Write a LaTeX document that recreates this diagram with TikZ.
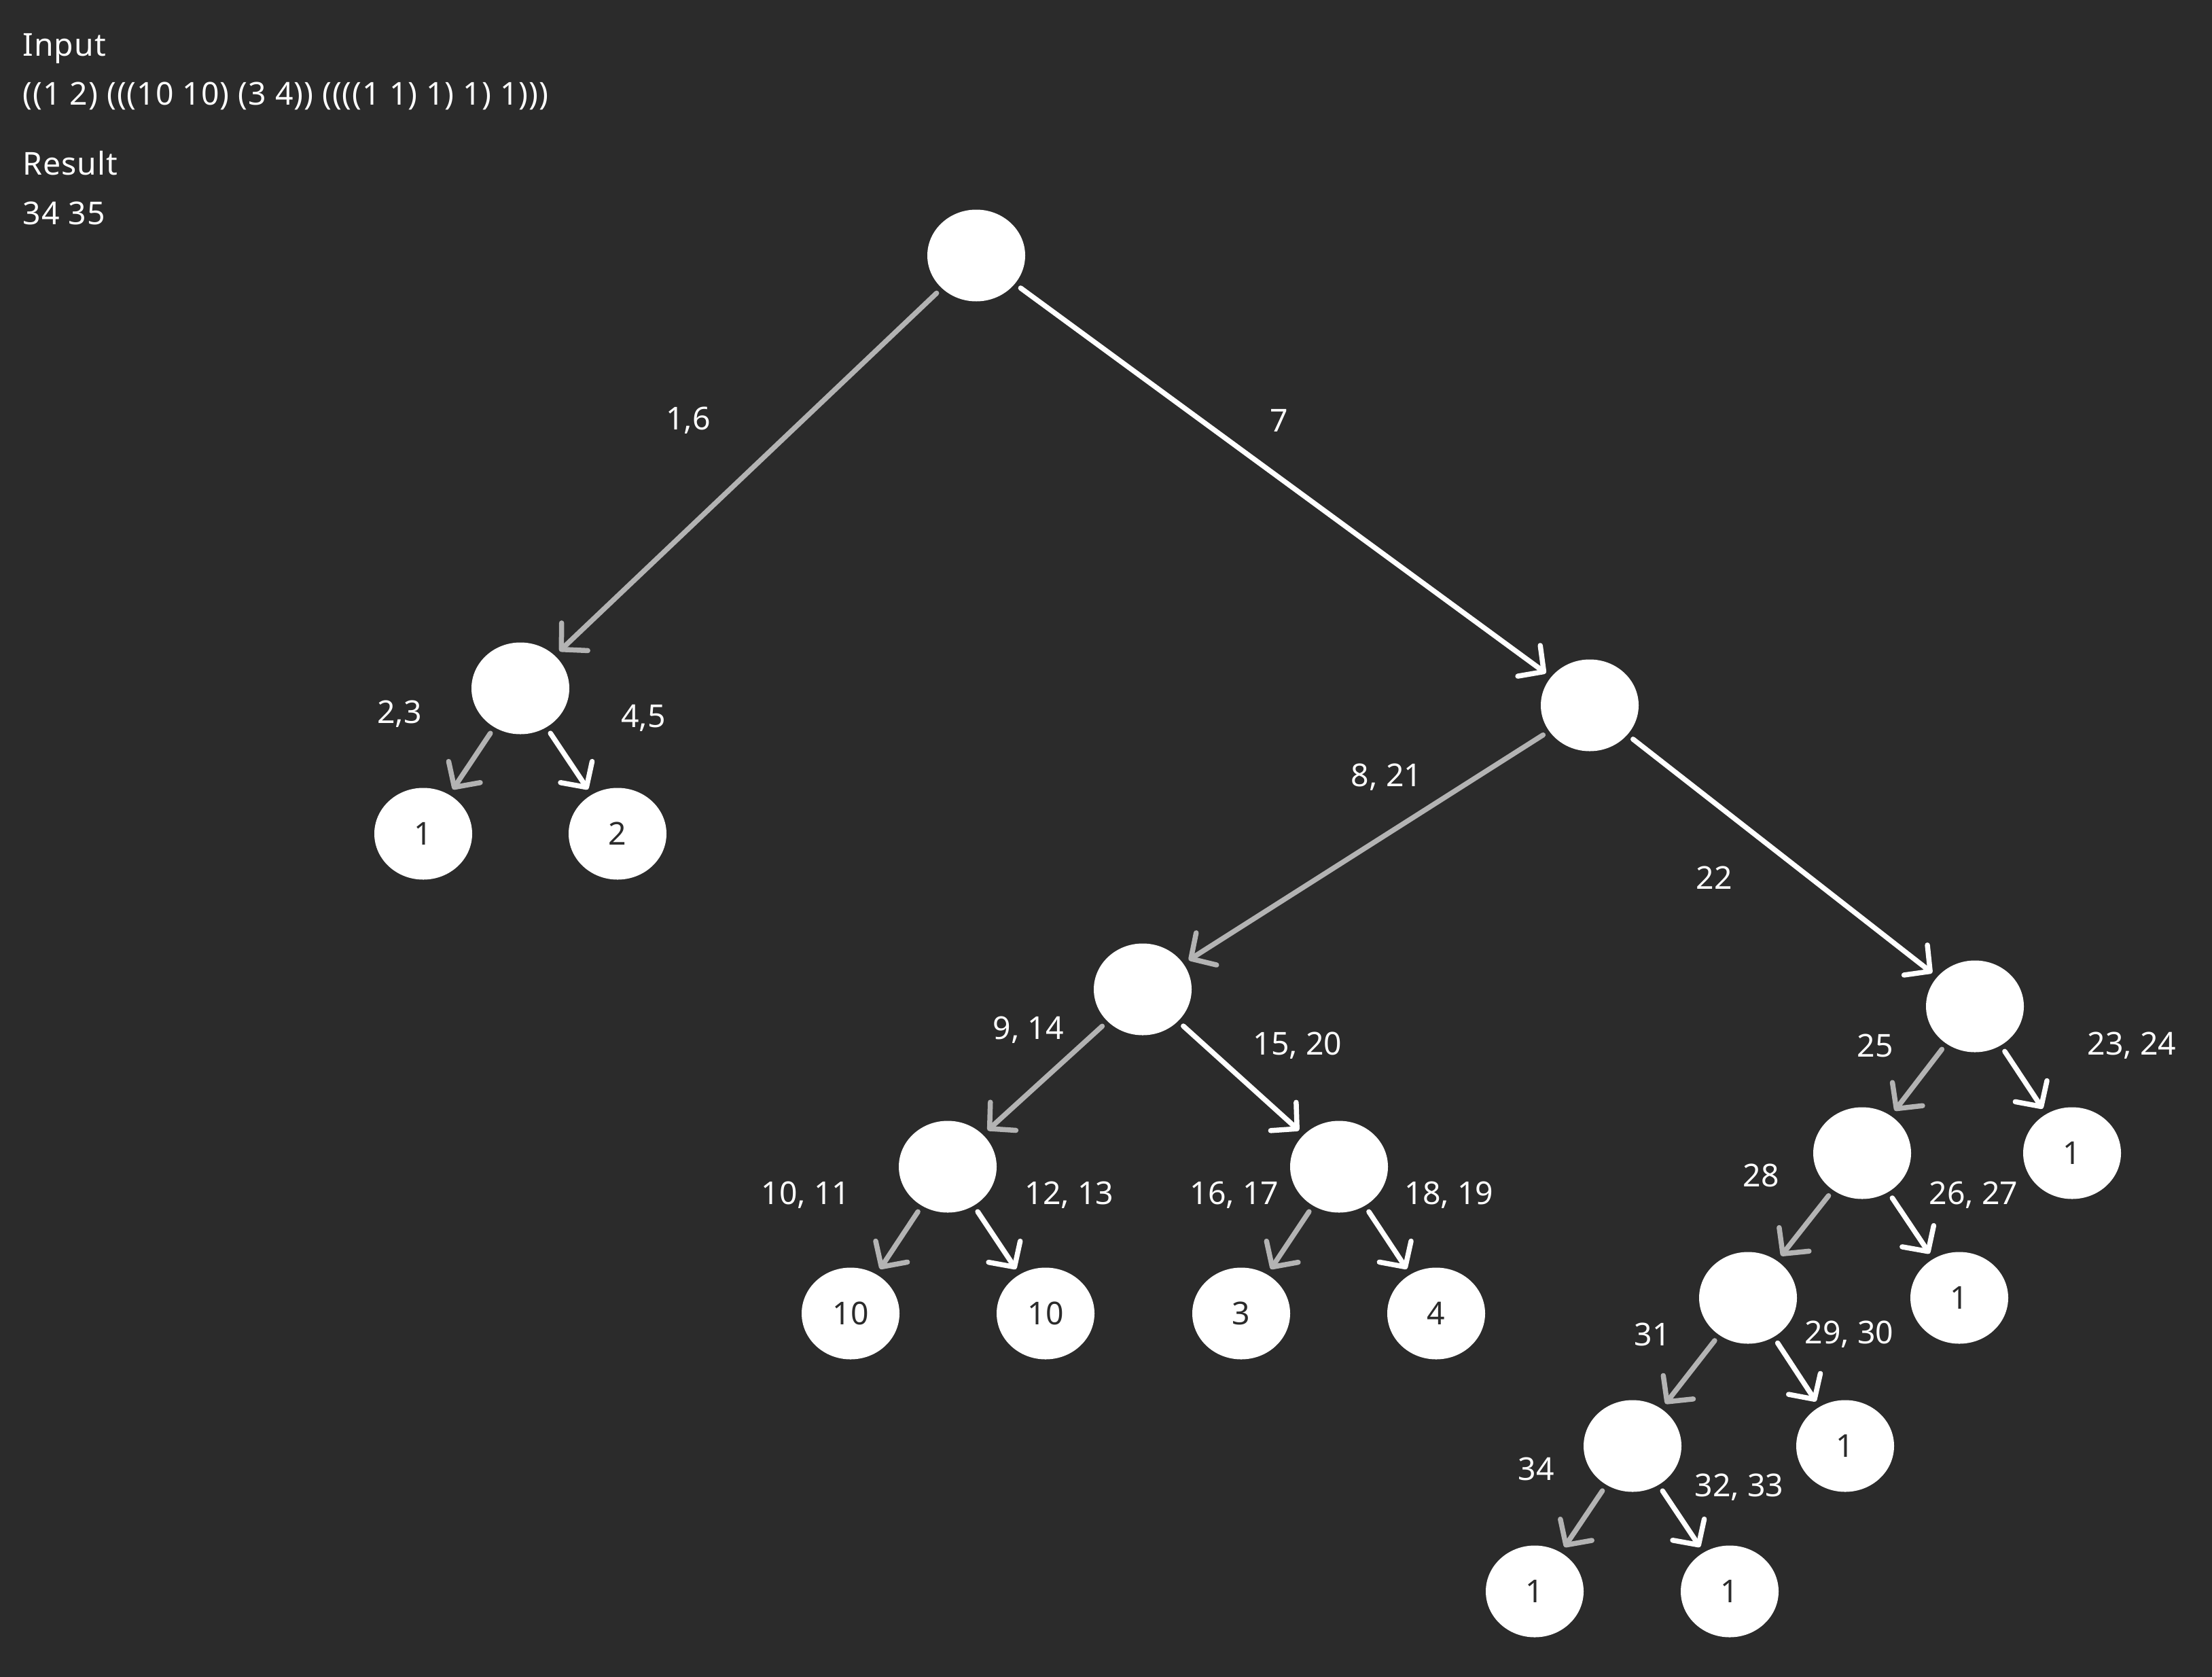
\documentclass[tikz,border=0pt]{standalone}
\usepackage{fontspec}
\setmainfont{Noto Sans}
\newfontfamily\hdrfont[LetterSpace=2]{Noto Sans}
\usetikzlibrary{shapes.geometric,arrows.meta}
\definecolor{bg}{HTML}{2B2B2B}
\definecolor{edgegray}{HTML}{B3B3B3}
\tikzset{
  tnode/.style={ellipse,fill=white,draw=none,minimum width=1.44cm,minimum height=1.35cm,inner sep=0pt,text=bg,font=\fontsize{13.2}{16}\selectfont},
  lbl/.style={text=white,inner sep=0pt,font=\fontsize{13.2}{16}\selectfont},
  hdr/.style={text=white,inner sep=0pt,anchor=base west,font=\hdrfont\fontsize{13.2}{16}\selectfont},
  baseedge/.style={line width=0.075cm,line cap=round,shorten <=0.1cm,shorten >=0.09cm,-{Straight Barb[length=0.27cm,width=0.56cm,round]}},
  ledge/.style={baseedge,draw=edgegray},
  redge/.style={baseedge,draw=white}
}
\begin{document}
\begin{tikzpicture}
\fill[bg] (0,0) rectangle (32.56,-24.68);
\useasboundingbox (0,0) rectangle (32.56,-24.68);
% header
\node[hdr] (h1) at (0.33,-0.82) {Input};
\node[hdr] (h2) at (0.33,-1.54) {((1 2) (((10 10) (3 4)) ((((1 1) 1) 1) 1)))};
\node[hdr] (h3) at (0.33,-2.57) {Result};
\node[hdr] (h4) at (0.33,-3.30) {34 35};
% nodes
\node[tnode] (root) at (14.37,-3.76) {};
\node[tnode] (L) at (7.66,-10.13) {};
\node[tnode] (L1) at (6.23,-12.27) {1};
\node[tnode] (L2) at (9.09,-12.27) {2};
\node[tnode] (R) at (23.40,-10.38) {};
\node[tnode] (RL) at (16.82,-14.56) {};
\node[tnode] (RLL) at (13.95,-17.17) {};
\node[tnode] (RLR) at (19.71,-17.17) {};
\node[tnode] (a10) at (12.52,-19.33) {10};
\node[tnode] (b10) at (15.39,-19.33) {10};
\node[tnode] (c3) at (18.27,-19.33) {3};
\node[tnode] (d4) at (21.14,-19.33) {4};
\node[tnode] (RR) at (29.07,-14.81) {};
\node[tnode] (RRr) at (30.50,-16.97) {1};
\node[tnode] (RRL) at (27.41,-16.97) {};
\node[tnode] (RRLr) at (28.84,-19.10) {1};
\node[tnode] (RRLL) at (25.73,-19.10) {};
\node[tnode] (RRLLr) at (27.16,-21.28) {1};
\node[tnode] (RRLLL) at (24.03,-21.28) {};
\node[tnode] (B1) at (22.59,-23.42) {1};
\node[tnode] (B2) at (25.46,-23.42) {1};
% edges
\draw[ledge] (root) -- (L);
\draw[redge] (root) -- (R);
\draw[ledge] (L) -- (L1);
\draw[redge] (L) -- (L2);
\draw[ledge] (R) -- (RL);
\draw[redge] (R) -- (RR);
\draw[ledge] (RL) -- (RLL);
\draw[redge] (RL) -- (RLR);
\draw[ledge] (RLL) -- (a10);
\draw[redge] (RLL) -- (b10);
\draw[ledge] (RLR) -- (c3);
\draw[redge] (RLR) -- (d4);
\draw[ledge] (RR) -- (RRL);
\draw[redge] (RR) -- (RRr);
\draw[ledge] (RRL) -- (RRLL);
\draw[redge] (RRL) -- (RRLr);
\draw[ledge] (RRLL) -- (RRLLL);
\draw[redge] (RRLL) -- (RRLLr);
\draw[ledge] (RRLLL) -- (B1);
\draw[redge] (RRLLL) -- (B2);
% labels
\node[lbl] (t16) at (10.13,-6.19) {1,6};
\node[lbl] (t7) at (18.83,-6.19) {7};
\node[lbl] (t23) at (5.88,-10.51) {2,3};
\node[lbl] (t45) at (9.47,-10.57) {4,5};
\node[lbl] (t821) at (20.41,-11.44) {8, 21};
\node[lbl] (t22) at (25.23,-12.92) {22};
\node[lbl] (t914) at (15.14,-15.16) {9, 14};
\node[lbl] (t1520) at (19.10,-15.39) {15, 20};
\node[lbl] (t1011) at (11.86,-17.59) {10, 11};
\node[lbl] (t1213) at (15.74,-17.59) {12, 13};
\node[lbl] (t1617) at (18.17,-17.59) {16, 17};
\node[lbl] (t1819) at (21.33,-17.59) {18, 19};
\node[lbl] (t25) at (27.60,-15.39) {25};
\node[lbl] (t2324) at (31.38,-15.39) {23, 24};
\node[lbl] (t28) at (25.92,-17.30) {28};
\node[lbl] (t2627) at (29.05,-17.59) {26, 27};
\node[lbl] (t31) at (24.32,-19.64) {31};
\node[lbl] (t2930) at (27.22,-19.64) {29, 30};
\node[lbl] (t34) at (22.61,-21.62) {34};
\node[lbl] (t3233) at (25.60,-21.89) {32, 33};
\end{tikzpicture}
\end{document}
